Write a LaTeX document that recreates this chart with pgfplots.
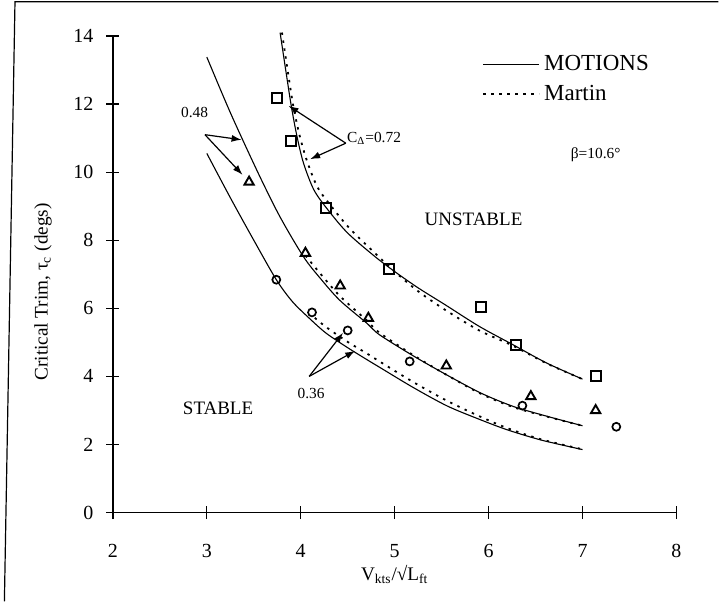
\documentclass[border=0pt]{standalone}
\usepackage{fontspec}
\setmainfont{Liberation Serif}
\usepackage{pgfplots}
\pgfplotsset{compat=1.18}
\usetikzlibrary{arrows.meta}

% critical trim curves, C_Delta = 0.72 / 0.48 / 0.36
\pgfplotstableread{
x y
3.78 14.10
3.84 13.00
3.90 11.93
3.96 11.05
4.03 10.26
4.14 9.48
4.29 8.89
4.50 8.21
4.79 7.52
5.00 7.08
5.25 6.60
5.54 6.10
5.90 5.47
6.26 4.93
6.62 4.39
7.00 3.92
}\motionsA
\pgfplotstableread{
x y
3.80 14.10
3.86 13.00
3.92 11.95
3.99 11.05
4.07 10.30
4.18 9.55
4.33 8.98
4.52 8.35
4.79 7.62
5.00 7.08
5.25 6.50
5.54 5.95
5.90 5.35
6.26 4.90
6.62 4.38
7.00 3.92
}\martinA
\pgfplotstableread{
x y
3.00 13.38
3.25 11.75
3.53 10.07
3.74 8.89
3.90 8.10
4.05 7.43
4.19 6.94
4.41 6.25
4.70 5.57
4.84 5.22
5.20 4.60
5.55 4.05
5.91 3.52
6.26 3.12
6.62 2.83
7.00 2.55
}\motionsB
\pgfplotstableread{
x y
4.05 7.55
4.19 7.08
4.41 6.38
4.70 5.65
4.84 5.28
5.20 4.62
5.55 4.05
5.91 3.50
6.26 3.10
6.62 2.82
7.00 2.55
}\martinB
\pgfplotstableread{
x y
3.00 10.55
3.25 9.25
3.50 8.00
3.74 6.84
3.91 6.20
4.09 5.71
4.27 5.27
4.49 4.86
4.70 4.50
4.85 4.25
5.20 3.67
5.56 3.13
5.91 2.73
6.20 2.43
6.56 2.13
7.00 1.85
}\motionsC
\pgfplotstableread{
x y
4.15 5.72
4.27 5.45
4.49 5.03
4.70 4.68
4.85 4.42
5.20 3.83
5.56 3.28
5.91 2.82
6.20 2.48
6.56 2.15
7.00 1.86
}\martinC
% experimental points
\pgfplotstableread{
x y
3.75 12.17
3.90 10.92
4.27 8.94
4.94 7.16
5.92 6.04
6.29 4.93
7.14 4.02
}\expA
\pgfplotstableread{
x y
3.45 9.71
4.05 7.62
4.42 6.66
4.72 5.71
5.55 4.31
6.45 3.41
7.14 3.00
}\expB
\pgfplotstableread{
x y
3.74 6.84
4.12 5.88
4.50 5.35
5.16 4.44
6.36 3.14
7.36 2.52
}\expC

\begin{document}
\begin{tikzpicture}
\begin{axis}[
  at={(0,0)}, anchor=south west,
  scale only axis, width=282pt, height=238.5pt,
  xmin=2, xmax=8, ymin=0, ymax=14,
  axis x line=bottom, axis y line=left,
  axis line style={-, line width=0.75pt},
  xtick={2,3,...,8}, ytick={0,2,...,14},
  tick align=center, major tick length=6.5pt,
  tick style={line width=0.6pt, black},
  /pgf/number format/assume math mode=true,
  ticklabel style={font=\fontsize{10}{12}\selectfont},
  xticklabel style={yshift=-9pt},
  yticklabel style={xshift=-3pt},
  xlabel={V\textsubscript{kts}/√L\textsubscript{ft}},
  ylabel={Critical Trim, τ\textsubscript{c} (degs)},
  label style={font=\fontsize{9.6}{12}\selectfont},
  xlabel style={at={(axis description cs:0.5,-0.13)}, anchor=center},
  ylabel style={at={(axis description cs:-0.124,0.463)}, anchor=center, rotate=0},
  clip=false,
  legend style={at={(axis description cs:0.655,0.968)}, anchor=north west,
    draw=none, fill=none, inner sep=0pt, row sep=1.5pt,
    font=\fontsize{11.5}{13}\selectfont},
  legend cell align=left,
  legend image code/.code={\draw[#1] (0pt,0pt) -- (28pt,0pt);},
  every axis plot/.append style={line width=0.55pt, black},
]
\addplot[smooth, no markers] table {\motionsA};
\addlegendentry{MOTIONS}
\addplot[smooth, no markers, line width=0.9pt, dash pattern=on 1.2pt off 2.8pt] table {\martinA};
\addlegendentry{Martin}
\addplot[smooth, no markers, forget plot] table {\motionsB};
\addplot[smooth, no markers, forget plot, line width=0.9pt, dash pattern=on 1.2pt off 2.8pt] table {\martinB};
\addplot[smooth, no markers, forget plot] table {\motionsC};
\addplot[smooth, no markers, forget plot, line width=0.9pt, dash pattern=on 1.2pt off 2.8pt] table {\martinC};

\addplot[only marks, forget plot, mark=square, mark size=2.5pt, mark options={line width=0.95pt}] table {\expA};
\addplot[only marks, forget plot, mark=triangle, mark size=2.7pt, mark options={line width=0.95pt}] table {\expB};
\addplot[only marks, forget plot, mark=o, mark size=2pt, mark options={line width=0.85pt}] table {\expC};

% annotations
\begin{scope}[font=\fontsize{7.7}{9}\selectfont]
\node at (axis cs:2.87,11.75) {0.48};
\draw[line width=0.6pt, -{Latex[length=5pt,width=3.5pt]}] (axis cs:2.98,11.10) -- (axis cs:3.37,10.95);
\draw[line width=0.6pt, -{Latex[length=5pt,width=3.5pt]}] (axis cs:2.98,11.10) -- (axis cs:3.38,9.92);
\node[anchor=west, inner sep=0pt] at (axis cs:4.49,11.0) {C\textsubscript{Δ}=0.72};
\draw[line width=0.6pt, -{Latex[length=5pt,width=3.5pt]}] (axis cs:4.48,10.85) -- (axis cs:3.87,11.95);
\draw[line width=0.6pt, -{Latex[length=5pt,width=3.5pt]}] (axis cs:4.48,10.85) -- (axis cs:4.10,10.38);
\node at (axis cs:4.11,3.49) {0.36};
\draw[line width=0.6pt, -{Latex[length=5pt,width=3.5pt]}] (axis cs:4.09,4.00) -- (axis cs:4.45,5.28);
\draw[line width=0.6pt, -{Latex[length=5pt,width=3.5pt]}] (axis cs:4.09,4.00) -- (axis cs:4.58,4.75);
\node at (axis cs:7.14,10.5) {β=10.6°};
\end{scope}
\node[font=\fontsize{9.5}{11}\selectfont] at (axis cs:3.12,3.07) {STABLE};
\node[font=\fontsize{9.5}{11}\selectfont] at (axis cs:5.84,8.60) {UNSTABLE};
\end{axis}
% panel size and its border (left edge slightly slanted, top edge)
\path (-56.5pt,-44.5pt) rectangle (303pt,256.5pt);
\draw[line width=0.6pt] (-54.3pt,-44.5pt) -- (-49pt,255.6pt) -- (303pt,255.6pt);
\end{tikzpicture}
\end{document}
